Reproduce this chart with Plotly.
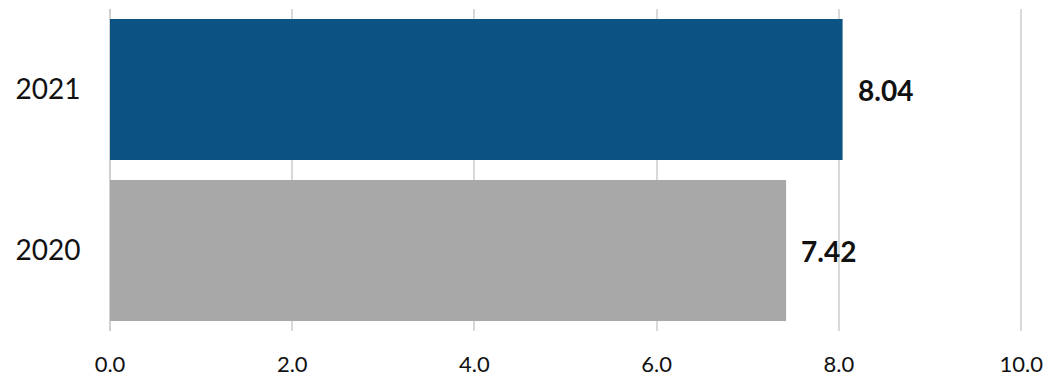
import plotly.graph_objects as go

# Values per year (bottom to top)
years = ["2020", "2021"]
values = [7.42, 8.04]
bar_colors = ["#a8a8a8", "#0c5282"]
value_labels = ["7.42", "8.04"]

tick_vals = [0, 2, 4, 6, 8, 10]
tick_text = ["0.0", "2.0", "4.0", "6.0", "8.0", "10.0"]

positions = list(range(len(years)))

fig = go.Figure(
    go.Bar(
        x=values,
        y=positions,
        orientation="h",
        width=0.876,
        marker=dict(color=bar_colors, line=dict(width=0)),
        hoverinfo="skip",
    )
)

# Bold value labels just past the end of each bar
for pos, v, lbl in zip(positions, values, value_labels):
    fig.add_annotation(
        x=v, y=pos, text=f"<b>{lbl}</b>", showarrow=False,
        xanchor="left", yanchor="middle", xshift=13,
        font=dict(family="Lato", size=28, color="#111111"),
    )

fig.update_layout(
    width=1047, height=376,
    margin=dict(l=110, r=24, t=9, b=45),
    paper_bgcolor="white", plot_bgcolor="white",
    showlegend=False,
    font=dict(family="Lato", color="#111111"),
    xaxis=dict(
        range=[0, 10.02],
        tickvals=tick_vals, ticktext=tick_text,
        tickfont=dict(size=22),
        showgrid=True, gridcolor="#d9d9d9", gridwidth=2,
        zeroline=True, zerolinecolor="#d0d0d0", zerolinewidth=2,
        ticks="outside", ticklen=14, tickcolor="rgba(0,0,0,0)",
        automargin=False,
        fixedrange=True,
    ),
    yaxis=dict(
        range=[-0.5, 1.5],
        tickvals=positions, ticktext=years,
        tickfont=dict(size=28),
        showgrid=False, zeroline=False,
        ticks="outside", ticklen=23, tickcolor="rgba(0,0,0,0)",
        automargin=False,
        fixedrange=True,
    ),
)

fig.write_html("out.html")
